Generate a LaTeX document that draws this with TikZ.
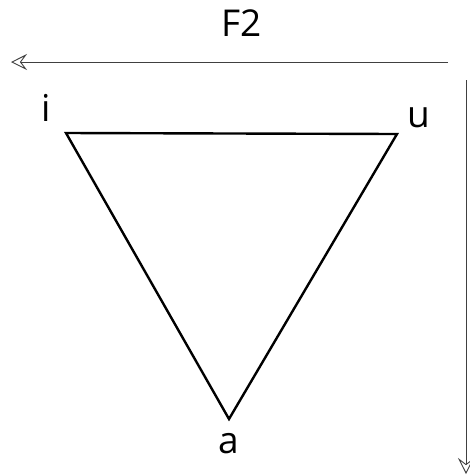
\documentclass[tikz,border=0pt]{standalone}
\usepackage{fontspec}
\setmainfont{Open Sans}
\usepackage{tikz}
\usetikzlibrary{arrows.meta}
\tikzset{
	axisarrow/.style={-{Stealth[open,length=16pt,width=16pt,inset=6pt]},draw=black!75,line width=0.9pt},
	triedge/.style={draw=black,line width=2.4pt,line join=miter},
	vlabel/.style={inner sep=0pt,font=\fontsize{37}{40}\selectfont}
}

\begin{document}
\begin{tikzpicture}[x=1pt,y=-1pt]
	\useasboundingbox (0,0) rectangle (470,475);
	% vertices of the vowel triangle
	\coordinate (vi) at (66,133);
	\coordinate (vu) at (397,134);
	\coordinate (va) at (229,419);
	\draw[triedge] (vi) -- (vu) -- (va) -- cycle;
	% axes
	\coordinate (hstart) at (448,62);
	\coordinate (hend) at (11,62);
	\coordinate (vstart) at (466,80);
	\coordinate (vend) at (466,474);
	\draw[axisarrow] (hstart) -- (hend);
	\draw[axisarrow] (vstart) -- (vend);
	% labels
	\node[vlabel] (f2) at (242,23) {F2};
	\foreach \n/\p in {i/{(46,108)},u/{(419,118)},a/{(229,444)}}
		\node[vlabel] (l\n) at \p {\n};
\end{tikzpicture}
\end{document}
